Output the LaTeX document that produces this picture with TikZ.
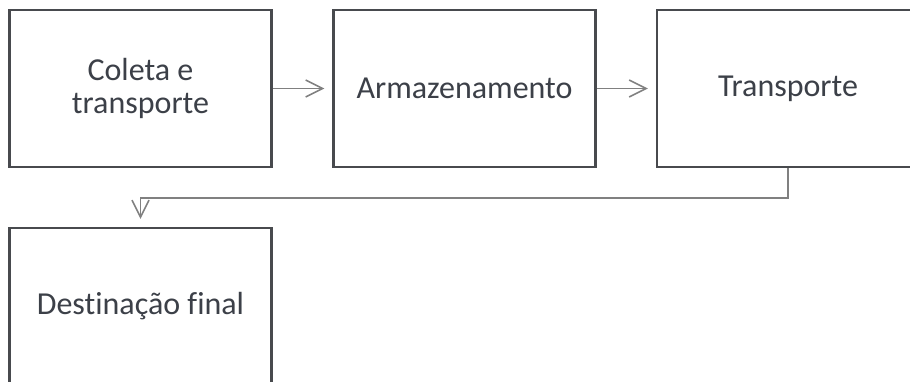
\documentclass[tikz,border=0pt]{standalone}
\usepackage{fontspec}
\setmainfont[Ligatures=NoCommon]{Carlito}
\usetikzlibrary{arrows.meta}
\definecolor{boxline}{RGB}{72,74,78}
\definecolor{txt}{RGB}{60,64,72}
\definecolor{conline}{RGB}{128,128,128}
\tikzset{
  stage/.style={draw=boxline, line width=2.4pt, fill=white, rectangle,
    minimum width=262pt, minimum height=157pt, inner sep=0pt,
    text=txt, align=center, font=\fontsize{32}{33}\selectfont},
  conn/.style={draw=conline, line width=1.5pt,
    -{Straight Barb[length=17pt,width=17pt,line width=1.5pt]}, shorten >=8pt}
}
\begin{document}
\begin{tikzpicture}[x=1pt,y=1pt]
\useasboundingbox (0,0) rectangle (910,381);
\fill[white] (0,0) rectangle (910,381);
\node[stage] (b1) at (140.5,292.5) {Coleta e\\transporte};
\node[stage] (b2) at (464.5,292.5) {Armazenamento};
\node[stage] (b3) at (788,292.5) {Transporte};
\node[stage] (b4) at (140.5,74.5) {Destinação final};
\draw[conn] (b1.east) -- (b2.west);
\draw[conn] (b2.east) -- (b3.west);
\draw[conn] (b3.south) -- ++(0,-30) -| (b4.north);
\end{tikzpicture}
\end{document}
